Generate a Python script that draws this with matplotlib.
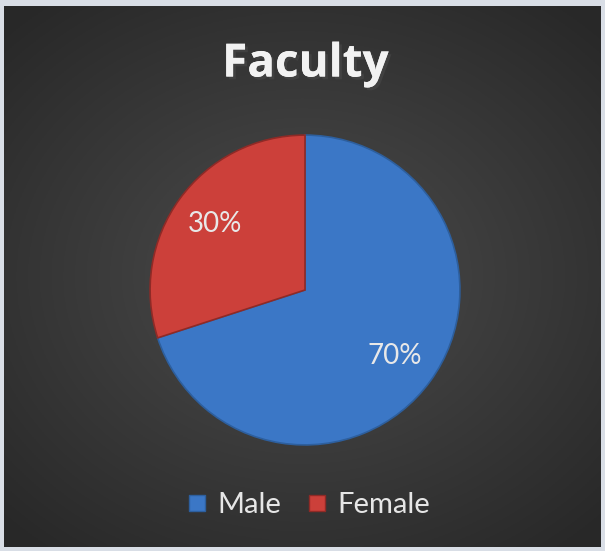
import numpy as np
import matplotlib
matplotlib.use("Agg")
import matplotlib.pyplot as plt
import matplotlib.patheffects as pe
from matplotlib.lines import Line2D

labels = ["Male", "Female"]
values = [70, 30]
colors = ["#3b77c6", "#cc403a"]
edge_colors = ["#2d5f9e", "#8f2a26"]

plt.rcParams["font.family"] = ["Lato", "DejaVu Sans"]

fig = plt.figure(figsize=(6.05, 5.51), dpi=100)
fig.patch.set_facecolor("#d9dee6")

# dark radial background
bg = fig.add_axes([4 / 605, 4 / 551, 597 / 605, 541 / 551])
yy, xx = np.mgrid[0:1:300j, 0:1:300j]
r = np.sqrt((xx - 0.5) ** 2 + ((yy - 0.5) * 1.1) ** 2)
shade = np.clip(0.30 - 0.20 * r, 0.16, 0.30)
bg.imshow(np.dstack([shade] * 3), extent=[0, 1, 0, 1], aspect="auto", origin="upper")
bg.axis("off")

# pie
ax = fig.add_axes([(305 - 158) / 605, (551 - 448) / 551, 316 / 605, 316 / 551])
wedges, texts, autotexts = ax.pie(values, colors=colors, startangle=90,
                                  counterclock=False, autopct="%d%%",
                                  pctdistance=0.72, radius=1,
                                  wedgeprops=dict(linewidth=1.2),
                                  textprops=dict(color="#e8e8e8", fontsize=20))
for w, ec in zip(wedges, edge_colors):
    w.set_edgecolor(ec)
ax.set_xlim(-1.02, 1.02)
ax.set_ylim(-1.02, 1.02)
ax.set_aspect("auto")
ax.axis("off")

# title
fig.text(0.505, 1 - 64 / 551, "Faculty", ha="center", va="center",
         fontsize=33, fontweight="bold", color="#f2f2f2",
         family=["Open Sans", "DejaVu Sans"],
         path_effects=[pe.withSimplePatchShadow(offset=(2, -2), alpha=0.6),
                       pe.Normal()])

# legend
handles = [Line2D([], [], marker="s", linestyle="none", markersize=12,
                  markerfacecolor=c, markeredgecolor=ec)
           for c, ec in zip(colors, edge_colors)]
fig.legend(handles, labels, loc="center", bbox_to_anchor=(0.51, 1 - 505 / 551),
           ncol=2, frameon=False, fontsize=21, labelcolor="#e6e6e6",
           handlelength=0.7, handletextpad=0.35, columnspacing=0.9)

fig.savefig("out.png", dpi=100, facecolor=fig.get_facecolor())
